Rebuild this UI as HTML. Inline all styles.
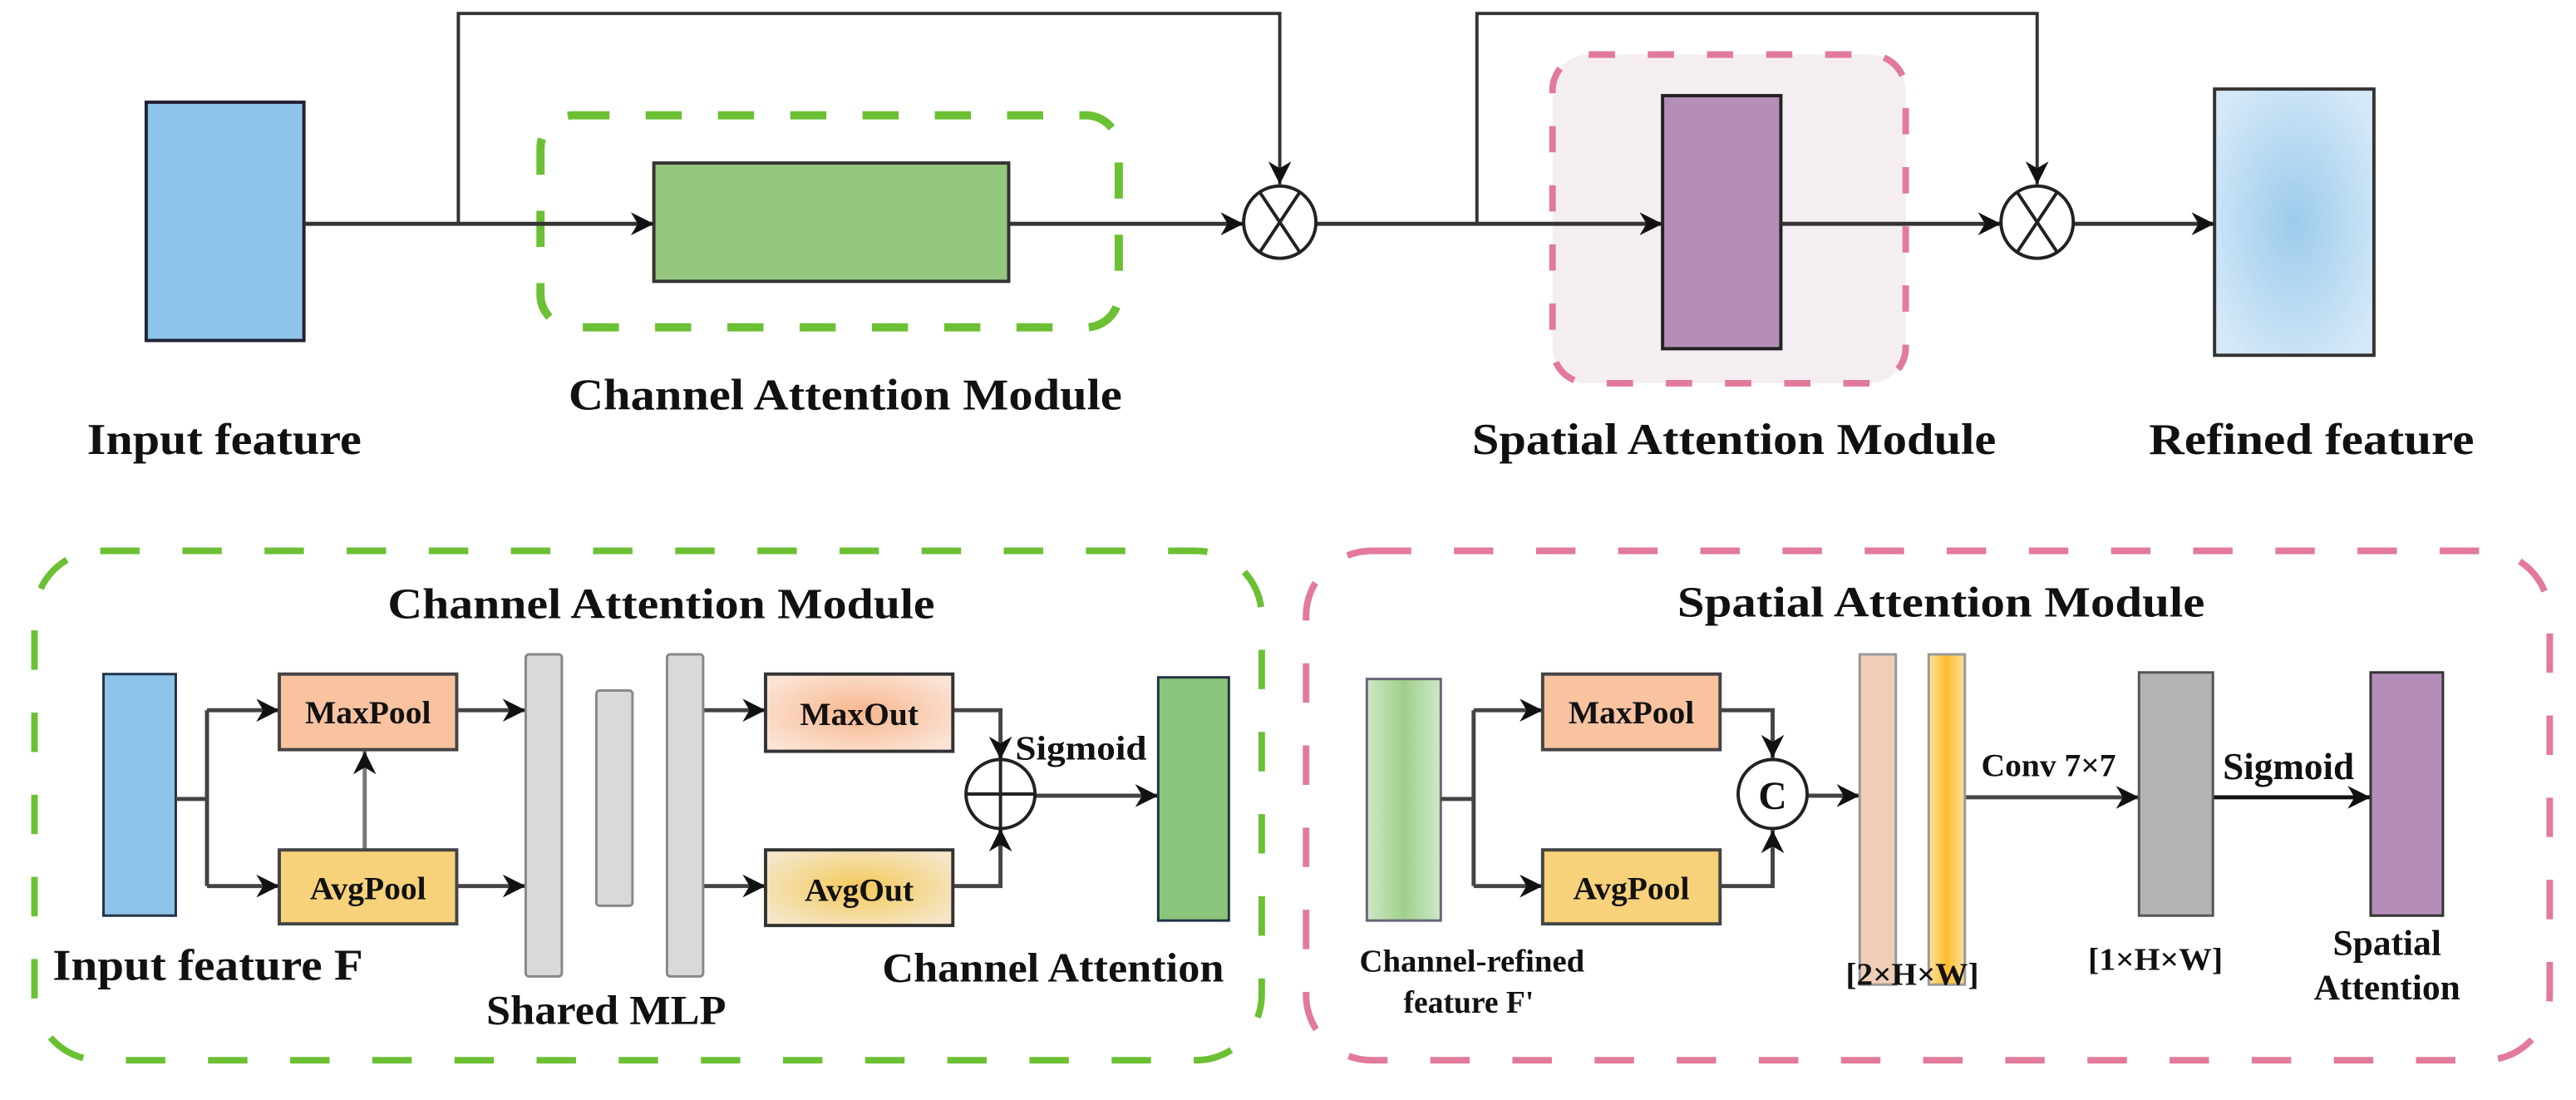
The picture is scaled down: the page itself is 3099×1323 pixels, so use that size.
<!DOCTYPE html>
<html><head><meta charset="utf-8"><style>
html,body{margin:0;padding:0;background:#fff;}
svg{display:block;}
text{font-family:"Liberation Serif",serif;font-weight:bold;fill:#111;}
</style></head><body>
<svg width="3099" height="1323" viewBox="0 0 1568 669" xmlns="http://www.w3.org/2000/svg">
<defs>
<marker id="a" viewBox="0 0 10 10" refX="10" refY="5" markerWidth="14" markerHeight="14" orient="auto" markerUnits="userSpaceOnUse">
<path d="M0,0 L10,5 L0,10 L3,5 z" fill="#111"/></marker>
<radialGradient id="rf" cx="50%" cy="50%" r="60%"><stop offset="0" stop-color="#9ccbec"/><stop offset="1" stop-color="#d4e8f8"/></radialGradient>
<radialGradient id="mo" cx="50%" cy="50%" r="60%"><stop offset="0" stop-color="#f8b58c"/><stop offset="1" stop-color="#fbe3d5"/></radialGradient>
<radialGradient id="ao" cx="50%" cy="50%" r="60%"><stop offset="0" stop-color="#f5c85a"/><stop offset="1" stop-color="#f4e6c6"/></radialGradient>
<linearGradient id="gb" x1="0" x2="1"><stop offset="0" stop-color="#cfe8c6"/><stop offset="0.5" stop-color="#9fd08a"/><stop offset="1" stop-color="#cfe8c6"/></linearGradient>
<linearGradient id="yb" x1="0" x2="1"><stop offset="0" stop-color="#fde2a0"/><stop offset="0.5" stop-color="#fdbb2c"/><stop offset="1" stop-color="#fde2a0"/></linearGradient>
</defs>

<!-- TOP -->
<g fill="none" stroke="#333" stroke-width="2">
<polyline points="279,136 279,8 779,8 779,112" marker-end="url(#a)"/>
<polyline points="899,136 899,8 1240,8 1240,112" marker-end="url(#a)"/>
</g>
<rect x="329" y="70" width="352" height="129" rx="20" fill="none" stroke="#6cc034" stroke-width="5" stroke-dasharray="22,22"/>
<rect x="945" y="33" width="215" height="200" rx="22" fill="#f4eef2" stroke="#e27a9a" stroke-width="4" stroke-dasharray="16,20"/>
<rect x="89" y="62" width="96" height="145" fill="#8ec3ea" stroke="#223" stroke-width="2"/>
<rect x="398" y="99" width="216" height="72" fill="#95c77e" stroke="#333" stroke-width="2"/>
<rect x="1012" y="58" width="72" height="154" fill="#b48db9" stroke="#222" stroke-width="2"/>
<rect x="1348" y="54" width="97" height="162" fill="url(#rf)" stroke="#333" stroke-width="2"/>
<g fill="none" stroke="#333" stroke-width="2.5">
<line x1="185" y1="136" x2="398" y2="136" marker-end="url(#a)"/>
<line x1="614" y1="136" x2="757" y2="136" marker-end="url(#a)"/>
<line x1="801" y1="136" x2="1012" y2="136" marker-end="url(#a)"/>
<line x1="1084" y1="136" x2="1218" y2="136" marker-end="url(#a)"/>
<line x1="1262" y1="136" x2="1348" y2="136" marker-end="url(#a)"/>
</g>
<g fill="#fff" stroke="#222" stroke-width="2">
<circle cx="779" cy="135" r="22"/><path d="M767,117 L791,153 M791,117 L767,153"/>
<circle cx="1240" cy="135" r="22"/><path d="M1228,117 L1252,153 M1252,117 L1228,153"/>
</g>
<text x="53" y="276" font-size="27" textLength="167" lengthAdjust="spacingAndGlyphs">Input feature</text>
<text x="346" y="249" font-size="27" textLength="337" lengthAdjust="spacingAndGlyphs">Channel Attention Module</text>
<text x="896" y="276" font-size="27" textLength="319" lengthAdjust="spacingAndGlyphs">Spatial Attention Module</text>
<text x="1308" y="276" font-size="27" textLength="198" lengthAdjust="spacingAndGlyphs">Refined feature</text>

<!-- BOTTOM LEFT -->
<rect x="21" y="335" width="747" height="310" rx="40" fill="none" stroke="#6cc034" stroke-width="4" stroke-dasharray="24,26"/>
<text x="236" y="376" font-size="26" textLength="333" lengthAdjust="spacingAndGlyphs">Channel Attention Module</text>
<rect x="63" y="410" width="44" height="147" fill="#8ec3ea" stroke="#234" stroke-width="1.5"/>
<g fill="none" stroke="#444" stroke-width="2.5">
<polyline points="107,486 126,486"/>
<polyline points="126,432 126,539"/>
<line x1="126" y1="432" x2="170" y2="432" marker-end="url(#a)"/>
<line x1="126" y1="539" x2="170" y2="539" marker-end="url(#a)"/>
<line x1="222" y1="517" x2="222" y2="457" marker-end="url(#a)" stroke="#777"/>
<line x1="278" y1="432" x2="320" y2="432" marker-end="url(#a)"/>
<line x1="278" y1="539" x2="320" y2="539" marker-end="url(#a)"/>
<line x1="428" y1="432" x2="466" y2="432" marker-end="url(#a)"/>
<line x1="428" y1="539" x2="466" y2="539" marker-end="url(#a)"/>
<polyline points="580,432 609,432 609,462" marker-end="url(#a)"/>
<polyline points="580,539 609,539 609,504" marker-end="url(#a)"/>
<line x1="630" y1="484" x2="705" y2="484" marker-end="url(#a)"/>
</g>
<rect x="170" y="410" width="108" height="46" fill="#f9c3a0" stroke="#444" stroke-width="2"/>
<rect x="170" y="517" width="108" height="45" fill="#f7d27a" stroke="#444" stroke-width="2"/>
<text x="224" y="440" font-size="20" text-anchor="middle">MaxPool</text>
<text x="224" y="547" font-size="20" text-anchor="middle">AvgPool</text>
<g fill="#d9d9d9" stroke="#888" stroke-width="1.5">
<rect x="320" y="398" width="22" height="196" rx="2"/>
<rect x="363" y="420" width="22" height="131" rx="2"/>
<rect x="406" y="398" width="22" height="196" rx="2"/>
</g>
<rect x="466" y="410" width="114" height="47" fill="url(#mo)" stroke="#333" stroke-width="2"/>
<rect x="466" y="517" width="114" height="46" fill="url(#ao)" stroke="#333" stroke-width="2"/>
<text x="523" y="441" font-size="20" text-anchor="middle">MaxOut</text>
<text x="523" y="548" font-size="20" text-anchor="middle">AvgOut</text>
<g fill="#fff" stroke="#222" stroke-width="2">
<circle cx="609" cy="483" r="21"/><path d="M588,483 L630,483 M609,462 L609,504"/>
</g>
<text x="618" y="462" font-size="21" textLength="80" lengthAdjust="spacingAndGlyphs">Sigmoid</text>
<rect x="705" y="412" width="43" height="148" fill="#8bc57b" stroke="#234" stroke-width="1.5"/>
<text x="32" y="596" font-size="27" textLength="189" lengthAdjust="spacingAndGlyphs">Input feature F</text>
<text x="296" y="623" font-size="25" textLength="146" lengthAdjust="spacingAndGlyphs">Shared MLP</text>
<text x="537" y="597" font-size="25" textLength="208" lengthAdjust="spacingAndGlyphs">Channel Attention</text>

<!-- BOTTOM RIGHT -->
<rect x="795" y="335" width="757" height="310" rx="40" fill="none" stroke="#e27a9a" stroke-width="4" stroke-dasharray="24,26"/>
<text x="1021" y="375" font-size="26" textLength="321" lengthAdjust="spacingAndGlyphs">Spatial Attention Module</text>
<rect x="832" y="413" width="45" height="147" fill="url(#gb)" stroke="#667" stroke-width="1.5"/>
<g fill="none" stroke="#444" stroke-width="2.5">
<polyline points="877,486 897,486"/>
<polyline points="897,432 897,539"/>
<line x1="897" y1="432" x2="939" y2="432" marker-end="url(#a)"/>
<line x1="897" y1="539" x2="939" y2="539" marker-end="url(#a)"/>
<polyline points="1047,432 1079,432 1079,461" marker-end="url(#a)"/>
<polyline points="1047,539 1079,539 1079,505" marker-end="url(#a)"/>
<line x1="1100" y1="484" x2="1132" y2="484" marker-end="url(#a)"/>
<line x1="1196" y1="485" x2="1302" y2="485" marker-end="url(#a)"/>
<line x1="1347" y1="485" x2="1443" y2="485" marker-end="url(#a)" stroke="#111"/>
</g>
<rect x="939" y="410" width="108" height="46" fill="#f9c3a0" stroke="#444" stroke-width="2"/>
<rect x="939" y="517" width="108" height="45" fill="#f7d27a" stroke="#444" stroke-width="2"/>
<text x="993" y="440" font-size="20" text-anchor="middle">MaxPool</text>
<text x="993" y="547" font-size="20" text-anchor="middle">AvgPool</text>
<circle cx="1079" cy="483" r="21" fill="#fff" stroke="#222" stroke-width="2"/>
<text x="1079" y="492" font-size="24" text-anchor="middle" font-weight="normal">C</text>
<rect x="1132" y="398" width="22" height="201" fill="#f0cdb8" stroke="#999" stroke-width="1.5"/>
<rect x="1174" y="398" width="22" height="201" fill="url(#yb)" stroke="#999" stroke-width="1.5"/>
<text x="1206" y="472" font-size="20" textLength="82" lengthAdjust="spacingAndGlyphs">Conv 7×7</text>
<rect x="1302" y="409" width="45" height="148" fill="#b4b4b4" stroke="#555" stroke-width="1.5"/>
<text x="1353" y="474" font-size="23" textLength="80" lengthAdjust="spacingAndGlyphs">Sigmoid</text>
<rect x="1443" y="409" width="44" height="148" fill="#b48db9" stroke="#333" stroke-width="1.5"/>
<text x="896" y="591" font-size="19" text-anchor="middle" textLength="137" lengthAdjust="spacingAndGlyphs">Channel-refined</text>
<text x="894" y="616" font-size="19" text-anchor="middle">feature F'</text>
<text x="1164" y="599" font-size="19" text-anchor="middle" font-weight="normal" textLength="81" lengthAdjust="spacingAndGlyphs">[2×H×W]</text>
<text x="1312" y="590" font-size="19" text-anchor="middle" font-weight="normal" textLength="82" lengthAdjust="spacingAndGlyphs">[1×H×W]</text>
<text x="1453" y="581" font-size="22" text-anchor="middle">Spatial</text>
<text x="1453" y="608" font-size="22" text-anchor="middle">Attention</text>
</svg>
</body></html>
